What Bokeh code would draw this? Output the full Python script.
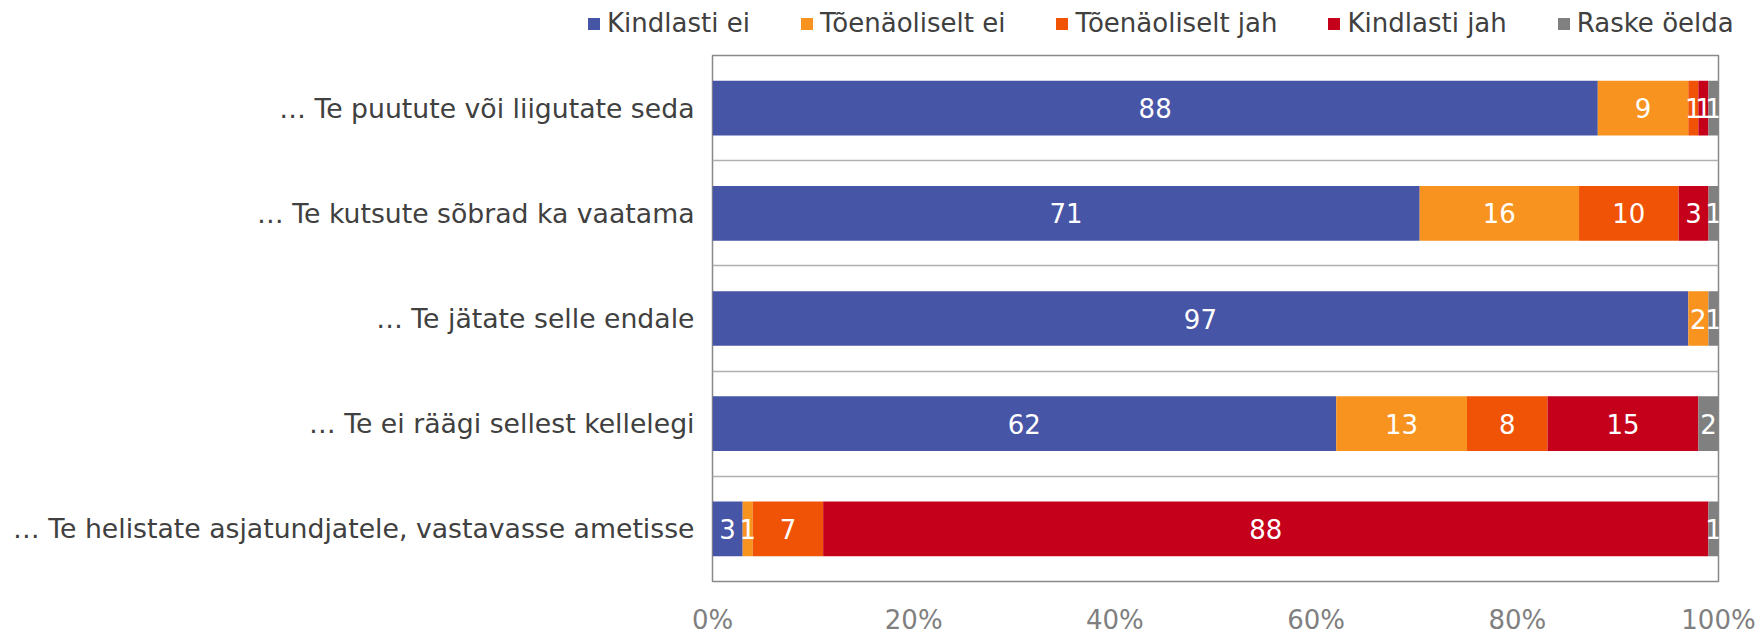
from bokeh.plotting import figure
from bokeh.layouts import column
from bokeh.models import ColumnDataSource, Range1d, FixedTicker, PrintfTickFormatter
from bokeh.core.properties import value
from bokeh.embed import file_html
from bokeh.resources import INLINE

categories = [
    "\u2026 Te puutute või liigutate seda",
    "\u2026 Te kutsute sõbrad ka vaatama",
    "\u2026 Te jätate selle endale",
    "\u2026 Te ei räägi sellest kellelegi",
    "\u2026 Te helistate asjatundjatele, vastavasse ametisse",
]
series_names = ["Kindlasti ei", "Tõenäoliselt ei", "Tõenäoliselt jah", "Kindlasti jah", "Raske öelda"]
kindlasti_ei = [88, 71, 97, 62, 3]
toenaoliselt_ei = [9, 16, 2, 13, 1]
toenaoliselt_jah = [1, 10, 0, 8, 7]
kindlasti_jah = [1, 3, 0, 15, 88]
raske_oelda = [1, 1, 1, 2, 1]
x_ticks = [0, 20, 40, 60, 80, 100]

colors = ["#4755A6", "#F7931E", "#F05206", "#C5001A", "#808080"]
FONT = "DejaVu Sans"

series = [kindlasti_ei, toenaoliselt_ei, toenaoliselt_jah, kindlasti_jah, raske_oelda]
n = len(categories)
ypos = [n - 1 - i for i in range(n)]
totals = [sum(s[i] for s in series) for i in range(n)]

data = {"y": ypos}
keys = []
for k, s in enumerate(series):
    key = "s%d" % k
    keys.append(key)
    data[key] = [s[i] / totals[i] * 100 for i in range(n)]
src = ColumnDataSource(data)

# label positions (segment centers)
lx, ly, lt = [], [], []
for i in range(n):
    cum = 0.0
    for k, s in enumerate(series):
        w = s[i] / totals[i] * 100
        if s[i] > 0:
            lx.append(cum + w / 2)
            ly.append(ypos[i])
            lt.append(str(s[i]))
        cum += w
lab_src = ColumnDataSource(dict(x=lx, y=ly, t=lt))

LEG_H = 45
TOTAL_H = 637

# ---- legend strip (separate figure on top; its bars lie outside its view) ----
pl = figure(width=1762, height=LEG_H, output_backend="svg", toolbar_location=None,
            x_range=Range1d(-300, -200), y_range=Range1d(-0.5, n - 0.5), min_border=0)
pl.frame_align = False
pl.axis.visible = False
pl.grid.visible = False
pl.outline_line_color = None
pl.background_fill_color = "white"
pl.border_fill_color = "white"
pl.hbar_stack(keys, y="y", height=0.52, color=colors, line_color=None, source=src,
              legend_label=series_names)
lg = pl.legend[0]
lg.orientation = "horizontal"
lg.location = (586, 7)
lg.label_text_font = FONT
lg.label_text_font_size = "26px"
lg.label_text_color = "#404040"
lg.glyph_width = 15
lg.glyph_height = 15
lg.label_standoff = 6
lg.spacing = 49
lg.padding = 0
lg.margin = 0
lg.border_line_color = None
lg.background_fill_alpha = 0

# ---- main chart ----
p = figure(width=1762, height=TOTAL_H - LEG_H, output_backend="svg", toolbar_location=None,
           x_range=Range1d(0, 100), y_range=Range1d(-0.5, n - 0.5),
           min_border_left=712, min_border_right=44, min_border_top=55 - LEG_H, min_border_bottom=50)
p.frame_align = False

p.hbar_stack(keys, y="y", height=0.52, color=colors, line_color=None, source=src)

p.text(x="x", y="y", text="t", source=lab_src, text_align="center", text_baseline="middle",
       text_color="white", text_font=value(FONT), text_font_size="26px")

p.outline_line_color = "#898989"
p.outline_line_width = 1.5
p.background_fill_color = "white"
p.border_fill_color = "white"

p.xgrid.visible = False
p.ygrid.ticker = FixedTicker(ticks=[0.5, 1.5, 2.5, 3.5])
p.ygrid.grid_line_color = "#b0b0b0"
p.ygrid.grid_line_width = 1.5

xa = p.xaxis[0]
xa.ticker = FixedTicker(ticks=x_ticks)
xa.formatter = PrintfTickFormatter(format="%d%%")
xa.axis_line_color = None
xa.major_tick_line_color = None
xa.minor_tick_line_color = None
xa.major_tick_in = 0
xa.major_tick_out = 0
xa.minor_tick_in = 0
xa.minor_tick_out = 0
xa.major_label_text_font = FONT
xa.major_label_text_font_size = "26px"
xa.major_label_text_line_height = 1.0
xa.major_label_text_color = "#7f7f7f"
xa.major_label_standoff = 23

ya = p.yaxis[0]
ya.ticker = FixedTicker(ticks=ypos)
ya.major_label_overrides = {ypos[i]: categories[i] for i in range(n)}
ya.axis_line_color = None
ya.major_tick_line_color = None
ya.minor_tick_line_color = None
ya.major_tick_in = 0
ya.major_tick_out = 0
ya.minor_tick_in = 0
ya.minor_tick_out = 0
ya.major_label_text_font = FONT
ya.major_label_text_font_size = "26.7px"
ya.major_label_text_color = "#404040"
ya.major_label_standoff = 18

layout = column(pl, p, spacing=0)
open("out.html", "w").write(file_html(layout, INLINE))
